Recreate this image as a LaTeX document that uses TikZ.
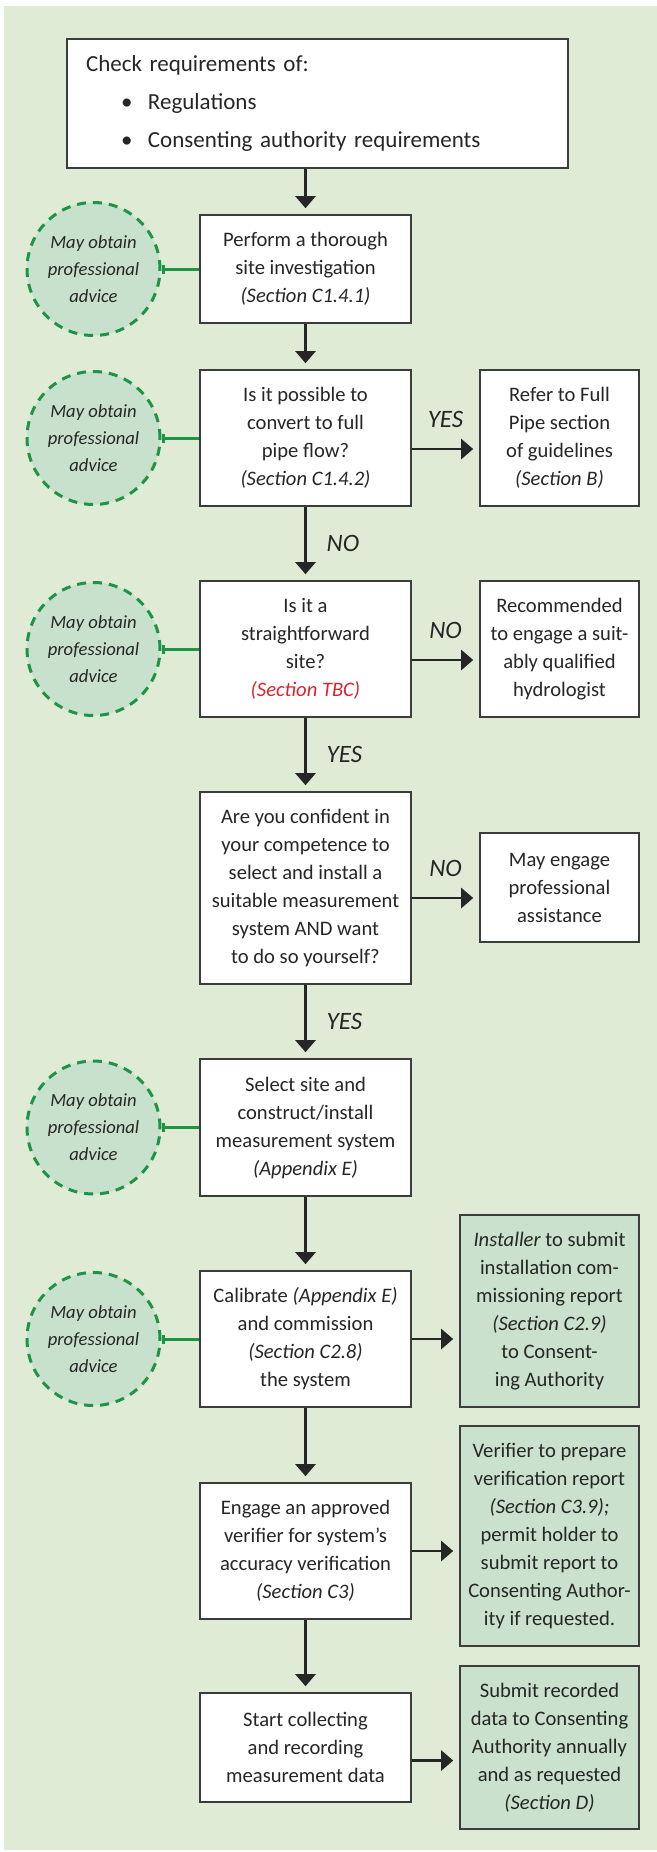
\documentclass[tikz,border=0pt]{standalone}
\usepackage{fontspec}
\setmainfont{Carlito}
\usetikzlibrary{arrows.meta}

\definecolor{bggreen}{HTML}{DFEBD4}
\definecolor{advfill}{HTML}{C8E1CD}
\definecolor{notegreen}{HTML}{C9E1CD}
\definecolor{advgreen}{HTML}{1E9447}
\definecolor{boxgray}{HTML}{3C3C3C}
\definecolor{inkgray}{HTML}{262626}
\definecolor{tbcred}{HTML}{D6262E}

\begin{document}
\begin{tikzpicture}[x=0.5pt,y=-0.5pt, % one unit = one pixel of the reference, y downwards
  topbox/.style={draw=boxgray, line width=0.8pt, fill=white, text=inkgray, align=left, inner xsep=9.5pt, inner ysep=0pt, text width=231.5pt, minimum height=64.5pt, font=\fontsize{11.5}{19}\selectfont},
  stepbox/.style={draw=boxgray, line width=0.8pt, fill=white, text=inkgray, align=center, inner sep=0pt, minimum width=105.5pt, font=\fontsize{10.3}{14}\selectfont},
  sidebox/.style={stepbox, minimum width=79.5pt},
  notebox/.style={stepbox, fill=notegreen, minimum width=89.5pt},
  advice/.style={circle, draw=advgreen, fill=advfill, line width=1.5pt, dash pattern=on 4.5pt off 3.5pt, minimum size=66.5pt, inner sep=0pt, align=center, text=inkgray, font=\fontsize{9.3}{13.5}\selectfont\itshape},
  flow/.style={draw=inkgray, line width=1.2pt, -{Triangle[length=6pt,width=10pt]}, shorten >=3pt},
  link/.style={draw=advgreen, line width=1.5pt, {Bar[width=4.5pt]}-},
  lbl/.style={inner sep=0pt, text=inkgray, font=\fontsize{12.5}{14}\selectfont\itshape}]

\useasboundingbox (0,0) rectangle (657,1852);
\fill[bggreen] (4,6) rectangle (657,1850);

\node[topbox] (check) at (317.5,103.5) {Check requirements of:\\
  \hspace*{17.5pt}\makebox[13.5pt][l]{\textbullet}Regulations\\
  \hspace*{17.5pt}\makebox[13.5pt][l]{\textbullet}Consenting authority requirements};

% main column
\node[stepbox, minimum height=54pt] (site) at (305.5,269) {Perform a thorough\\site investigation\\\textit{(Section C1.4.1)}};
\node[stepbox, minimum height=68pt] (pipe) at (305.5,438) {Is it possible to\\convert to full\\pipe flow?\\\textit{(Section C1.4.2)}};
\node[stepbox, minimum height=68pt] (simple) at (305.5,649) {Is it a\\straightforward\\site?\\\textcolor{tbcred}{\textit{(Section TBC)}}};
\node[stepbox, minimum height=96pt] (diy) at (305.5,888) {Are you confident in\\your competence to\\select and install a\\suitable measurement\\system AND want\\to do so yourself?};
\node[stepbox, minimum height=68.5pt] (install) at (305.5,1127.5) {Select site and\\construct/install\\measurement system\\\textit{(Appendix E)}};
\node[stepbox, minimum height=68pt] (calib) at (305.5,1339) {Calibrate \textit{(Appendix E)}\\and commission\\\textit{(Section C2.8)}\\the system};
\node[stepbox, minimum height=68pt] (verify) at (305.5,1551) {Engage an approved\\verifier for system’s\\accuracy verification\\\textit{(Section C3)}};
\node[stepbox, minimum height=54.5pt] (record) at (305.5,1747.5) {Start collecting\\and recording\\measurement data};

% right column
\node[sidebox, minimum height=68pt] (fullpipe) at (559.5,438) {Refer to Full\\Pipe section\\of guidelines\\\textit{(Section B)}};
\node[sidebox, minimum height=68pt] (hydro) at (559.5,649) {Recommended\\to engage a suit-\\ably qualified\\hydrologist};
\node[sidebox, minimum height=54.5pt] (assist) at (559.5,887.5) {May engage\\professional\\assistance};
\node[notebox, minimum height=96pt] (report) at (549.5,1311) {\textit{Installer} to submit\\installation com-\\missioning report\\\textit{(Section C2.9)}\\to Consent-\\ing Authority};
\node[notebox, minimum height=110pt] (vreport) at (549.5,1536) {Verifier to prepare\\verification report\\\textit{(Section C3.9);}\\permit holder to\\submit report to\\Consenting Author-\\ity if requested.};
\node[notebox, minimum height=81.5pt] (submit) at (549.5,1747.5) {Submit recorded\\data to Consenting\\Authority annually\\and as requested\\\textit{(Section D)}};

% advice bubbles
\node[advice] (adv1) at (93.5,269) {May obtain\\professional\\advice};
\node[advice] (adv2) at (93.5,438) {May obtain\\professional\\advice};
\node[advice] (adv3) at (93.5,649) {May obtain\\professional\\advice};
\node[advice] (adv4) at (93.5,1127.5) {May obtain\\professional\\advice};
\node[advice] (adv5) at (93.5,1339) {May obtain\\professional\\advice};

\draw[link] (adv1.east) -- (site.west);
\draw[link] (adv2.east) -- (pipe.west);
\draw[link] (adv3.east) -- (simple.west);
\draw[link] (adv4.east) -- (install.west);
\draw[link] (adv5.east) -- (calib.west);

% down the flow
\draw[flow] (check.south -| site.north) -- (site.north);
\draw[flow] (site) -- (pipe);
\draw[flow] (pipe) -- node[lbl, right=10pt] {NO} (simple);
\draw[flow] (simple) -- node[lbl, right=10pt] {YES} (diy);
\draw[flow] (diy) -- node[lbl, right=10pt] {YES} (install);
\draw[flow] (install) -- (calib);
\draw[flow] (calib) -- (verify);
\draw[flow] (verify) -- (record);

% across
\draw[flow] ([yshift=-5.5pt]pipe.east) -- ([yshift=-5.5pt]pipe.east -| fullpipe.west) node[lbl, midway, above=10pt] {YES};
\draw[flow] ([yshift=-5.5pt]simple.east) -- ([yshift=-5.5pt]simple.east -| hydro.west) node[lbl, midway, above=10pt] {NO};
\draw[flow] ([yshift=-5pt]diy.east) -- ([yshift=-5pt]diy.east -| assist.west) node[lbl, midway, above=10pt] {NO};
\draw[flow] (calib.east) -- (calib.east -| report.west);
\draw[flow] (verify.east) -- (verify.east -| vreport.west);
\draw[flow] ([yshift=-6.5pt]record.east) -- ([yshift=-6.5pt]record.east -| submit.west);

\end{tikzpicture}
\end{document}
